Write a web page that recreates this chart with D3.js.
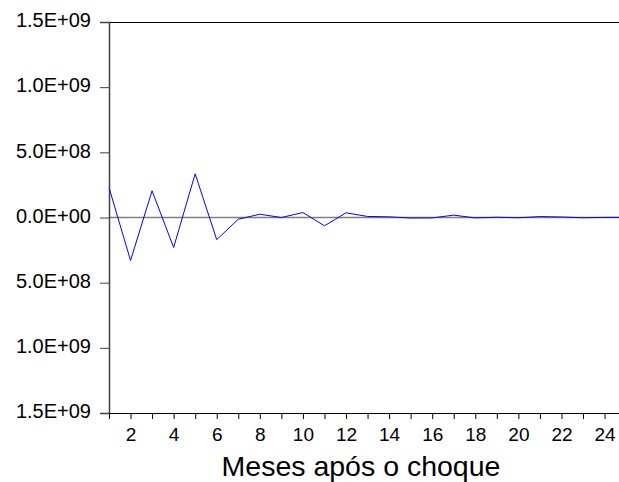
<!DOCTYPE html>
<html>
<head>
<meta charset="utf-8">
<script src="https://cdn.jsdelivr.net/npm/d3@7"></script>
<style>
  body { margin: 0; background: #fff; }
  svg { display: block; font-family: Arial, "Liberation Sans", sans-serif; }
</style>
</head>
<body>
<svg id="chart" width="619" height="482"></svg>
<script>
// impulse response, months after the shock
const months = d3.range(1, 26);
const response = [
  2.3e8, -3.3e8, 2.05e8, -2.3e8, 3.35e8, -1.7e8, -0.13e8, 0.25e8, 0.0, 0.38e8,
  -0.64e8, 0.36e8, 0.08e8, 0.05e8, -0.04e8, -0.03e8, 0.18e8, -0.03e8, 0.02e8, -0.02e8,
  0.07e8, 0.04e8, -0.02e8, 0.01e8, 0.01e8
];
const yTicks = [1.5e9, 1.0e9, 5.0e8, 0, -5.0e8, -1.0e9, -1.5e9];
const yTickLabels = ["1.5E+09", "1.0E+09", "5.0E+08", "0.0E+00", "5.0E+08", "1.0E+09", "1.5E+09"];
const xTicks = d3.range(1, 25);
const xTitle = "Meses após o choque";

const W = 619, H = 482;
const margin = { top: 22, right: 0, bottom: 69, left: 109 };
const iw = W - margin.left - margin.right;
const ih = H - margin.top - margin.bottom;

const svg = d3.select("#chart");
const g = svg.append("g").attr("transform", `translate(${margin.left},${margin.top})`);

const x = d3.scaleLinear().domain([1, 24.67]).range([0, iw]);
const y = d3.scaleLinear().domain([-1.5e9, 1.5e9]).range([ih, 0]);

svg.append("defs").append("clipPath").attr("id", "clip")
  .append("rect").attr("width", iw).attr("height", ih);

// zero line
g.append("line")
  .attr("x1", 0).attr("x2", iw)
  .attr("y1", y(0)).attr("y2", y(0))
  .attr("stroke", "#808080").attr("stroke-width", 1.5);

// top frame line
g.append("line")
  .attr("x1", 0).attr("x2", iw).attr("y1", 0.5).attr("y2", 0.5)
  .attr("stroke", "#000");

// y axis
const yAxis = g.append("g")
  .call(d3.axisLeft(y).tickValues(yTicks).tickSize(9).tickPadding(9)
    .tickFormat((d, i) => yTickLabels[i]));
yAxis.select(".domain").attr("stroke", "#404040").attr("stroke-width", 1.5);
yAxis.selectAll(".tick line").attr("stroke", "#404040");
yAxis.selectAll("text").attr("font-size", 20).attr("fill", "#000").attr("dy", "0.24em")
  .attr("font-family", "Arial, 'Liberation Sans', sans-serif");

// x axis
const xAxis = g.append("g").attr("transform", `translate(0,${ih})`)
  .call(d3.axisBottom(x).tickValues(xTicks).tickSize(6).tickPadding(9)
    .tickFormat(d => d % 2 === 0 ? d : ""));
xAxis.select(".domain").attr("stroke", "#000").attr("d", `M0.5,0.5H${iw}`);
xAxis.selectAll(".tick line").attr("stroke", "#000");
xAxis.selectAll("text").attr("font-size", 19).attr("fill", "#000")
  .attr("font-family", "Arial, 'Liberation Sans', sans-serif");

// response line
const line = d3.line().x((d, i) => x(months[i])).y(d => y(d));
g.append("path")
  .datum(response)
  .attr("clip-path", "url(#clip)")
  .attr("fill", "none")
  .attr("stroke", "#0000ff")
  .attr("stroke-width", 1)
  .attr("d", line);

// x title
svg.append("text")
  .attr("x", 361)
  .attr("y", 476)
  .attr("text-anchor", "middle")
  .attr("font-size", 28.5)
  .attr("fill", "#000")
  .text(xTitle);
</script>
</body>
</html>
